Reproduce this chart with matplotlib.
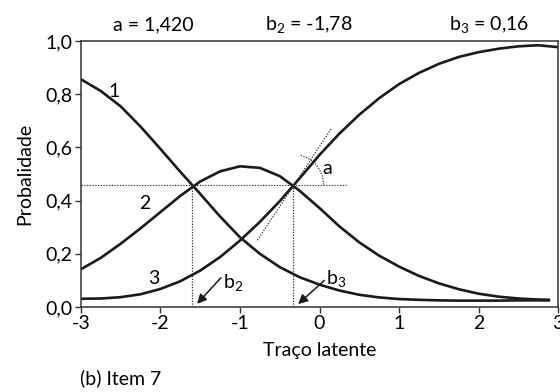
import matplotlib
matplotlib.use("Agg")
import matplotlib.pyplot as plt
from matplotlib.patches import Arc

plt.rcParams['font.family'] = ['Lato', 'DejaVu Sans']

# Data
theta = [-3.0, -2.75, -2.5, -2.25, -2.0, -1.75, -1.5, -1.25, -1.0, -0.75,
         -0.5, -0.25, 0.0, 0.25, 0.5, 0.75, 1.0, 1.25, 1.5, 1.75, 2.0,
         2.25, 2.5, 2.75, 2.9]
cat1 = [0.856, 0.812, 0.754, 0.678, 0.594, 0.508, 0.425, 0.340, 0.262, 0.200,
        0.150, 0.112, 0.084, 0.062, 0.046, 0.036, 0.030, 0.027, 0.025, 0.024,
        0.024, 0.024, 0.025, 0.025, 0.025]
cat2 = [0.142, 0.185, 0.238, 0.296, 0.357, 0.418, 0.472, 0.510, 0.529, 0.523,
        0.492, 0.437, 0.372, 0.303, 0.243, 0.193, 0.152, 0.117, 0.089, 0.067,
        0.050, 0.039, 0.032, 0.028, 0.027]
theta3 = [-3.0, -2.75, -2.5, -2.25, -2.0, -1.75, -1.5, -1.25, -1.0, -0.75,
          -0.5, -0.25, 0.0, 0.25, 0.5, 0.75, 1.0, 1.25, 1.5, 1.75, 2.0,
          2.25, 2.5, 2.75, 3.0]
cat3 = [0.031, 0.032, 0.037, 0.048, 0.068, 0.097, 0.137, 0.188, 0.250, 0.320,
        0.398, 0.484, 0.572, 0.652, 0.723, 0.785, 0.838, 0.880, 0.914, 0.940,
        0.958, 0.971, 0.980, 0.984, 0.977]

xticks = [-3, -2, -1, 0, 1, 2, 3]
xticklabels = ['-3', '-2', '-1', '0', '1', '2', '3']
yticks = [0.0, 0.2, 0.4, 0.6, 0.8, 1.0]
yticklabels = ['0,0', '0,2', '0,4', '0,6', '0,8', '1,0']

a_param = '1,420'
b2_param = '-1,78'
b3_param = '0,16'
b2_x, b3_x, cross_p = -1.6, -0.33, 0.46

fig = plt.figure(figsize=(5.6, 3.92), dpi=100)
ax = fig.add_axes([0.1446, 0.2168, 0.852, 0.6786])

lc = '#1a1a1a'
for xs, ys in ((theta, cat1), (theta, cat2), (theta3, cat3)):
    ax.plot(xs, ys, color=lc, lw=1.9, solid_capstyle='butt', solid_joinstyle='round')

# dotted guide lines
dot = dict(color='#333333', lw=0.9, ls=(0, (1, 1.2)))
ax.plot([-3, 0.34], [cross_p, cross_p], **dot)
ax.plot([b2_x, b2_x], [0, cross_p], **dot)
ax.plot([b3_x, b3_x], [0, cross_p], **dot)
ax.plot([-0.78, 0.15], [0.251, 0.672], **dot)
ax.add_patch(Arc((b3_x, cross_p), 0.76, 0.226, theta1=0, theta2=56,
                 color='#333333', lw=0.9, ls=(0, (1, 1.2))))

# labels
fs = 13
fs2 = 14
ax.text(-2.58, 0.81, '1', fontsize=fs2, ha='center', va='center')
ax.text(-2.2, 0.39, '2', fontsize=fs2, ha='center', va='center')
ax.text(-2.08, 0.108, '3', fontsize=fs2, ha='center', va='center')
ax.text(0.1, 0.52, 'a', fontsize=fs2, ha='center', va='center')

ax.annotate('', xy=(-1.54, 0.012), xytext=(-1.24, 0.11),
            arrowprops=dict(arrowstyle='-|>', color=lc, lw=1.1,
                            mutation_scale=14, shrinkA=0, shrinkB=0))
ax.annotate('', xy=(-0.27, 0.011), xytext=(0.06, 0.10),
            arrowprops=dict(arrowstyle='-|>', color=lc, lw=1.1,
                            mutation_scale=14, shrinkA=0, shrinkB=0))
ax.text(-1.22, 0.09, r'b$_{\mathregular{2}}$', fontsize=fs2, ha='left', va='center')
ax.text(0.08, 0.105, r'b$_{\mathregular{3}}$', fontsize=fs2, ha='left', va='center')

ax.set_xlim(-3, 3)
ax.set_ylim(0, 1)
ax.set_xticks(xticks)
ax.set_xticklabels(xticklabels, fontsize=fs2)
ax.set_yticks(yticks)
ax.set_yticklabels(yticklabels, fontsize=fs2)
ax.tick_params(direction='out', length=4, width=1, color='#333333', pad=2)
for s in ax.spines.values():
    s.set_color('#333333')
    s.set_linewidth(1.1)

ax.set_xlabel('Traço latente', fontsize=fs2, labelpad=7)
ax.set_ylabel('Probalidade', fontsize=fs2, labelpad=9)

fig.text(153 / 560, 1 - 25 / 392, 'a = ' + a_param, fontsize=fs2, ha='center', va='center')
fig.text(309 / 560, 1 - 25 / 392, r'b$_{\mathregular{2}}$ = ' + b2_param, fontsize=fs2,
         ha='center', va='center')
fig.text(489 / 560, 1 - 25 / 392, r'b$_{\mathregular{3}}$ = ' + b3_param, fontsize=fs2,
         ha='center', va='center')
fig.text(80 / 560, 1 - 378 / 392, '(b) Item 7', fontsize=fs2, ha='left', va='center')

fig.savefig('out.png', dpi=100)
